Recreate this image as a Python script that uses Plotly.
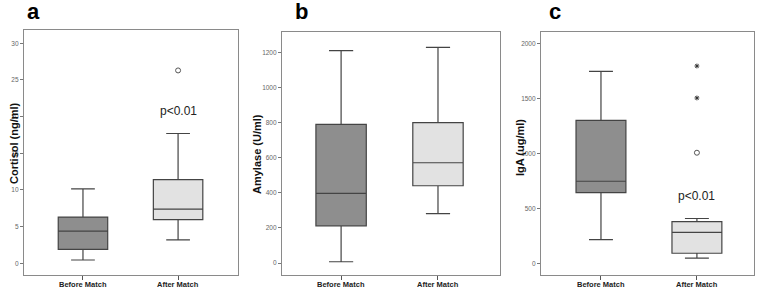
import plotly.graph_objects as go

groups = ["Before Match", "After Match"]

# Panel a: Cortisol (ng/ml)
cort_q1 = [1.9, 5.95]
cort_med = [4.4, 7.4]
cort_q3 = [6.3, 11.4]
cort_lo = [0.45, 3.2]
cort_hi = [10.15, 17.7]
cort_out_circle = [26.3]

# Panel b: Amylase (U/ml)
amy_q1 = [212, 440]
amy_med = [397, 571]
amy_q3 = [790, 800]
amy_lo = [7, 281]
amy_hi = [1210, 1228]

# Panel c: IgA (ug/ml)
iga_q1 = [645, 95]
iga_med = [748, 285]
iga_q3 = [1300, 381]
iga_lo = [218, 50]
iga_hi = [1746, 410]
iga_out_circle = [1007]
iga_out_star = [1504, 1794]

fills = ["#8e8e8e", "#e2e2e2"]
LINE = "#444444"
FRAME = "#8a8a8a"
W, H = 759, 289
BOT = 275

fig = go.Figure()

def add_boxes(xa, ya, q1, med, q3, lo, hi):
    for i, g in enumerate(groups):
        fig.add_trace(go.Box(
            x=[g], q1=[q1[i]], median=[med[i]], q3=[q3[i]],
            lowerfence=[lo[i]], upperfence=[hi[i]],
            fillcolor=fills[i], line=dict(color=LINE, width=1.2),
            width=0.52, whiskerwidth=0.48, boxpoints=False,
            xaxis=xa, yaxis=ya, showlegend=False, hoverinfo="skip"))

add_boxes("x", "y", cort_q1, cort_med, cort_q3, cort_lo, cort_hi)
add_boxes("x2", "y2", amy_q1, amy_med, amy_q3, amy_lo, amy_hi)
add_boxes("x3", "y3", iga_q1, iga_med, iga_q3, iga_lo, iga_hi)

fig.add_trace(go.Scatter(x=[groups[1]] * len(cort_out_circle), y=cort_out_circle,
                         mode="markers", xaxis="x", yaxis="y", showlegend=False,
                         hoverinfo="skip",
                         marker=dict(symbol="circle-open", size=5, color="#555",
                                     line=dict(width=1))))
fig.add_trace(go.Scatter(x=[groups[1]] * len(iga_out_circle), y=iga_out_circle,
                         mode="markers", xaxis="x3", yaxis="y3", showlegend=False,
                         hoverinfo="skip",
                         marker=dict(symbol="circle-open", size=5, color="#555",
                                     line=dict(width=1))))
fig.add_trace(go.Scatter(x=[groups[1]] * len(iga_out_star), y=iga_out_star,
                         mode="markers", xaxis="x3", yaxis="y3", showlegend=False,
                         hoverinfo="skip",
                         marker=dict(symbol="asterisk-open", size=4, color="#333",
                                     line=dict(width=1, color="#333"))))

def fx(px):
    return px / W

def fy(py):
    return 1 - py / H

def px_x(a, b):
    return [fx(a), fx(b)]

def px_y(top, bottom):
    return [fy(bottom), fy(top)]

def yrange(v0_px, vref_px, vref, top_px, bot_px):
    ppu = (v0_px - vref_px) / vref
    return [-(bot_px - v0_px) / ppu, (v0_px - top_px) / ppu]

xcommon = dict(type="category", showline=True, mirror=True, linecolor=FRAME,
               linewidth=1.2, ticks="outside", ticklen=4, tickcolor="#555",
               showgrid=False, zeroline=False, showticklabels=False)
ycommon = dict(showline=True, mirror=True, linecolor=FRAME, linewidth=1.2,
               ticks="outside", ticklen=3, tickcolor="#777", showgrid=False,
               zeroline=False,
               tickfont=dict(family="Liberation Sans, Arial", size=6.5, color="#666"))

fig.update_layout(
    width=W, height=H, margin=dict(l=0, r=0, t=0, b=0),
    paper_bgcolor="white", plot_bgcolor="white",
    xaxis=dict(xcommon, domain=px_x(24, 238), range=[-0.62, 1.63], anchor="y"),
    yaxis=dict(ycommon, domain=px_y(30, BOT), range=yrange(263.3, 43.3, 30, 30, BOT),
               anchor="x", tickvals=[0, 5, 10, 15, 20, 25, 30]),
    xaxis2=dict(xcommon, domain=px_x(282, 500), range=[-0.61, 1.64], anchor="y2"),
    yaxis2=dict(ycommon, domain=px_y(32, BOT), range=yrange(263, 52.3, 1200, 32, BOT),
                anchor="x2", tickvals=[0, 200, 400, 600, 800, 1000, 1200]),
    xaxis3=dict(xcommon, domain=px_x(541, 754), range=[-0.625, 1.595], anchor="y3"),
    yaxis3=dict(ycommon, domain=px_y(32, BOT), range=yrange(263.7, 43.3, 2000, 32, BOT),
                anchor="x3", tickvals=[0, 500, 1000, 1500, 2000]),
)

ann = []
for letter, xp in [("a", 33), ("b", 301), ("c", 555)]:
    ann.append(dict(text=f"<b>{letter}</b>", x=fx(xp), y=fy(12), xref="paper",
                    yref="paper", showarrow=False, xanchor="center", yanchor="middle",
                    font=dict(family="Liberation Sans, Arial", size=22, color="#000")))
for label, xp, yp in [("Cortisol (ng/ml)", 14, 143), ("Amylase (U/ml)", 257, 154),
                      ("IgA (ug/ml)", 520, 148)]:
    ann.append(dict(text=f"<b>{label}</b>", x=fx(xp), y=fy(yp), xref="paper",
                    yref="paper", showarrow=False, textangle=-90,
                    xanchor="center", yanchor="middle",
                    font=dict(family="Liberation Sans, Arial", size=11, color="#111")))
# category labels under each panel, positioned through the category axes
for xa in ["x", "x2", "x3"]:
    for g in groups:
        ann.append(dict(text=f"<b>{g}</b>", x=g, y=fy(284), xref=xa, yref="paper",
                        showarrow=False, xanchor="center", yanchor="middle",
                        font=dict(family="Liberation Sans, Arial", size=7.5, color="#222")))
ann.append(dict(text="p<0.01", x=groups[1], y=20.8, xref="x", yref="y", showarrow=False,
                font=dict(family="Liberation Sans, Arial", size=12, color="#222")))
ann.append(dict(text="p<0.01", x=groups[1], y=614, xref="x3", yref="y3", showarrow=False,
                font=dict(family="Liberation Sans, Arial", size=12, color="#222")))
fig.update_layout(annotations=ann)

# remove the page's default body margin so the figure fills the window exactly
fig.write_html("out.html",
               config={"displayModeBar": False},
               post_script="document.body.style.margin='0px';"
                           "document.body.style.overflow='hidden';")
